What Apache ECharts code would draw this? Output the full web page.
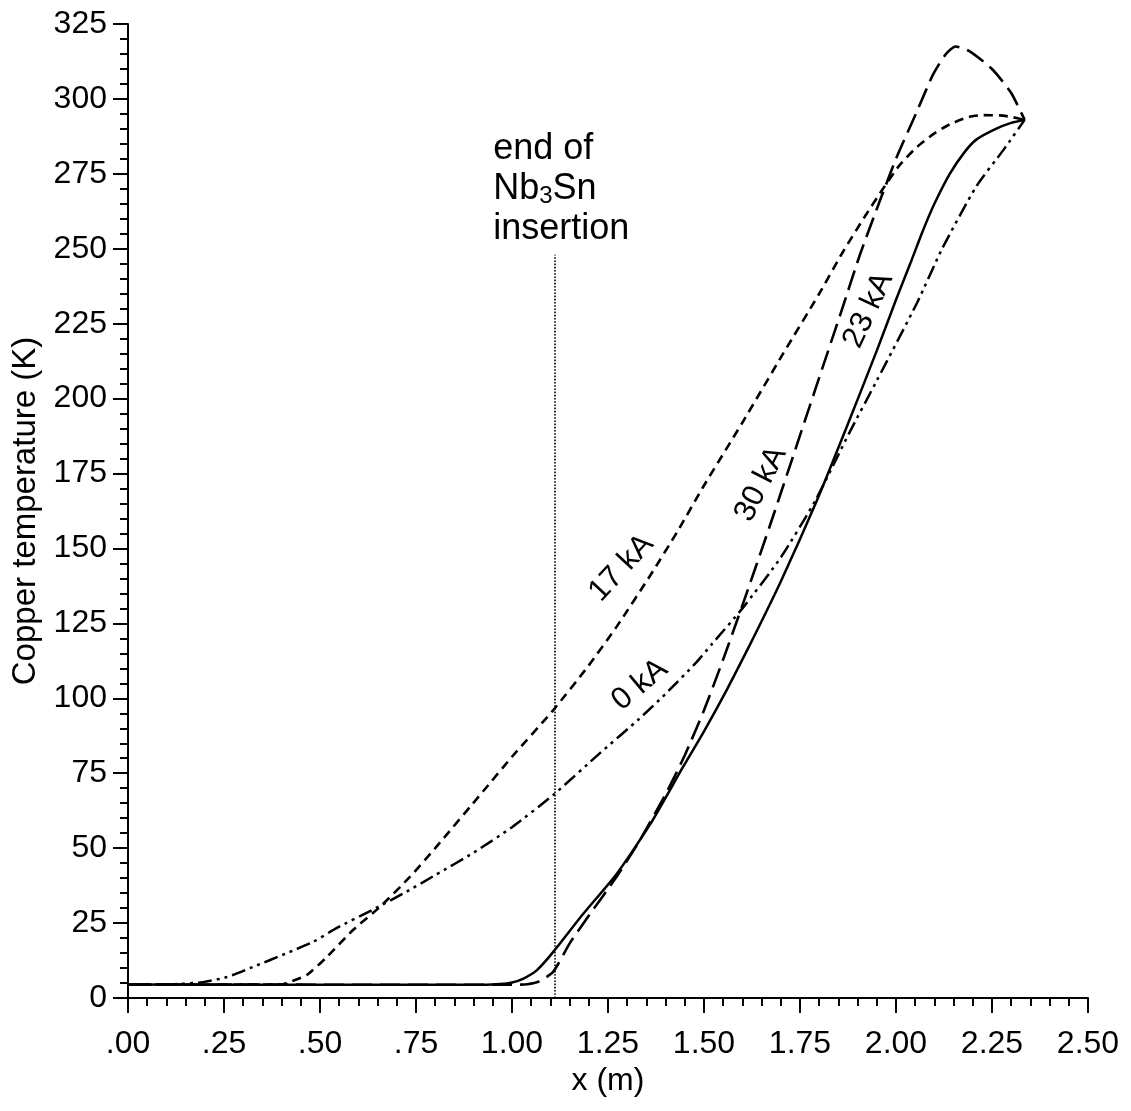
<!DOCTYPE html>
<html>
<head>
<meta charset="utf-8">
<script src="https://cdn.jsdelivr.net/npm/echarts@6/dist/echarts.min.js"></script>
<style>
  html, body { margin: 0; padding: 0; background: #ffffff; }
  #chart { width: 1131px; height: 1111px; }
</style>
</head>
<body>
<div id="chart"></div>
<script>
// ---------- data ----------
const xTickLabels = ['.00', '.25', '.50', '.75', '1.00', '1.25', '1.50', '1.75', '2.00', '2.25', '2.50'];
const yTickLabels = ['0', '25', '50', '75', '100', '125', '150', '175', '200', '225', '250', '275', '300', '325'];

// 23 kA (solid)
const curve23kA = [
  [0, 4.5], [0.5, 4.4], [0.9, 4.4], [0.97, 4.7], [1.0, 5.2], [1.03, 6.5], [1.065, 9.3],
  [1.107, 15.3], [1.185, 28], [1.273, 41.5], [1.36, 58], [1.445, 77], [1.50, 89],
  [1.56, 103], [1.62, 118], [1.70, 139], [1.794, 166], [1.87, 190], [1.95, 216], [2.0, 233],
  [2.04, 246], [2.07, 256], [2.10, 265], [2.14, 275], [2.18, 282.5], [2.21, 286.5],
  [2.26, 290], [2.30, 292], [2.335, 293]
];

// 30 kA (long dash)
const curve30kA = [
  [0, 4.5], [1.0, 4.4], [1.04, 4.6], [1.07, 5.5], [1.107, 8.7], [1.151, 18.4], [1.203, 28],
  [1.27, 40], [1.33, 52], [1.40, 68], [1.45, 81], [1.50, 96], [1.55, 113], [1.60, 131],
  [1.67, 157], [1.73, 180], [1.80, 207], [1.86, 230], [1.906, 248], [1.958, 266],
  [2.0, 280], [2.055, 296], [2.096, 308], [2.13, 315], [2.155, 317.5], [2.19, 316],
  [2.25, 310], [2.30, 302], [2.335, 293]
];

// 17 kA (short dash)
const curve17kA = [
  [0, 4.5], [0.40, 4.5], [0.414, 5], [0.466, 7.7], [0.518, 13.7], [0.586, 22.7], [0.656, 30.4],
  [0.734, 40.4], [0.80, 50], [0.925, 69], [1.0, 80.5], [1.107, 96], [1.20, 111], [1.273, 124],
  [1.36, 141], [1.43, 155.5], [1.50, 171], [1.60, 192], [1.706, 215], [1.80, 235], [1.862, 249],
  [1.92, 261], [1.966, 270], [2.01, 278], [2.055, 284], [2.10, 288.5], [2.14, 291.5], [2.19, 294],
  [2.227, 294.6], [2.27, 294.5], [2.30, 294], [2.335, 293]
];

// 0 kA (dash-dot-dot)
const curve0kA = [
  [0, 4.5], [0.12, 4.6], [0.195, 5.3], [0.258, 7], [0.326, 10.4], [0.414, 15], [0.482, 18.7],
  [0.544, 23.4], [0.638, 29.5], [0.716, 34.8], [0.80, 41], [0.90, 48.5], [1.0, 57], [1.107, 67.7],
  [1.229, 81.7], [1.33, 93], [1.40, 101.5], [1.48, 112], [1.52, 118], [1.60, 130], [1.70, 147],
  [1.79, 166], [1.88, 189], [1.95, 206], [2.055, 232], [2.12, 250], [2.21, 271], [2.28, 283],
  [2.335, 293]
];

// end of Nb3Sn insertion marker
const insertionEnd = [[1.112, 0], [1.112, 248]];

// curve labels: [text, x, y, angle in degrees]
const curveLabels = [
  ['17 kA', 1.285, 143.5, 47],
  ['0 kA', 1.333, 104.5, 40],
  ['30 kA', 1.648, 171.5, 63],
  ['23 kA', 1.928, 229.5, 65]
];
const noteLines = ['end of', 'Nb{sub|3}Sn', 'insertion'];
const notePos = [0.951, 270];

// ---------- chart ----------
const FONT = '"Liberation Sans", Arial, sans-serif';
const chart = echarts.init(document.getElementById('chart'), null, { renderer: 'canvas' });

const axisCommon = {
  axisLine: { show: true, onZero: false, lineStyle: { color: '#000', width: 2 } },
  axisTick: { show: true, inside: false, length: 15, lineStyle: { color: '#000', width: 2 } },
  minorTick: { show: true, splitNumber: 5, length: 8, lineStyle: { color: '#000', width: 2 } },
  splitLine: { show: false },
  minorSplitLine: { show: false }
};

function lineSeries(name, data, type, width) {
  return {
    name: name, type: 'line', data: data, showSymbol: false, symbol: 'none',
    smooth: 0.2, silent: true,
    lineStyle: { color: '#000', width: width, type: type, cap: 'butt' },
    z: 3
  };
}

const option = {
  backgroundColor: '#ffffff',
  animation: false,
  grid: { left: 128, right: 43, top: 24, bottom: 113, containLabel: false },
  xAxis: Object.assign({
    type: 'value', min: 0, max: 2.5, interval: 0.25,
    name: 'x (m)', nameLocation: 'middle', nameGap: 60,
    nameTextStyle: { fontFamily: FONT, fontSize: 32, color: '#000' },
    axisLabel: {
      margin: 30, fontFamily: FONT, fontSize: 32, color: '#000',
      formatter: function (v) { return xTickLabels[Math.round(v / 0.25)] || ''; }
    }
  }, axisCommon),
  yAxis: Object.assign({
    type: 'value', min: 0, max: 325, interval: 25,
    name: 'Copper temperature (K)', nameLocation: 'middle', nameGap: 72,
    nameTextStyle: { fontFamily: FONT, fontSize: 33, color: '#000' },
    axisLabel: {
      margin: 21, fontFamily: FONT, fontSize: 32, color: '#000',
      formatter: function (v) { return yTickLabels[Math.round(v / 25)] || ''; }
    }
  }, axisCommon),
  series: [
    lineSeries('23 kA', curve23kA, 'solid', 2.5),
    lineSeries('30 kA', curve30kA, [20, 8], 2.6),
    lineSeries('17 kA', curve17kA, [9, 6], 2.6),
    lineSeries('0 kA', curve0kA, [14, 5, 3, 5, 3, 5], 2.5),
    {
      name: 'insertion', type: 'line', data: insertionEnd, showSymbol: false, symbol: 'none',
      silent: true, lineStyle: { color: '#000', width: 1.6, type: [1.6, 1.6] }, z: 2
    }
  ]
};
chart.setOption(option);

function placeLabels() {
  const g = [];
  curveLabels.forEach(function (l) {
    const p = chart.convertToPixel({ gridIndex: 0 }, [l[1], l[2]]);
    g.push({
      type: 'text', x: p[0], y: p[1], rotation: l[3] * Math.PI / 180, silent: true,
      style: { text: l[0], fill: '#000', fontSize: 31, fontFamily: FONT, align: 'center', verticalAlign: 'middle' }
    });
  });
  const np = chart.convertToPixel({ gridIndex: 0 }, notePos);
  g.push({
    type: 'text', x: np[0], y: np[1], silent: true,
    style: {
      text: noteLines.join('\n'), fill: '#000', fontSize: 36, fontFamily: FONT, lineHeight: 40,
      align: 'left', verticalAlign: 'middle',
      rich: { sub: { fontSize: 24, fontFamily: FONT, fill: '#000', padding: [16, 0, 0, 0] } }
    }
  });
  chart.setOption({ graphic: g });
}
placeLabels();
</script>
</body>
</html>
